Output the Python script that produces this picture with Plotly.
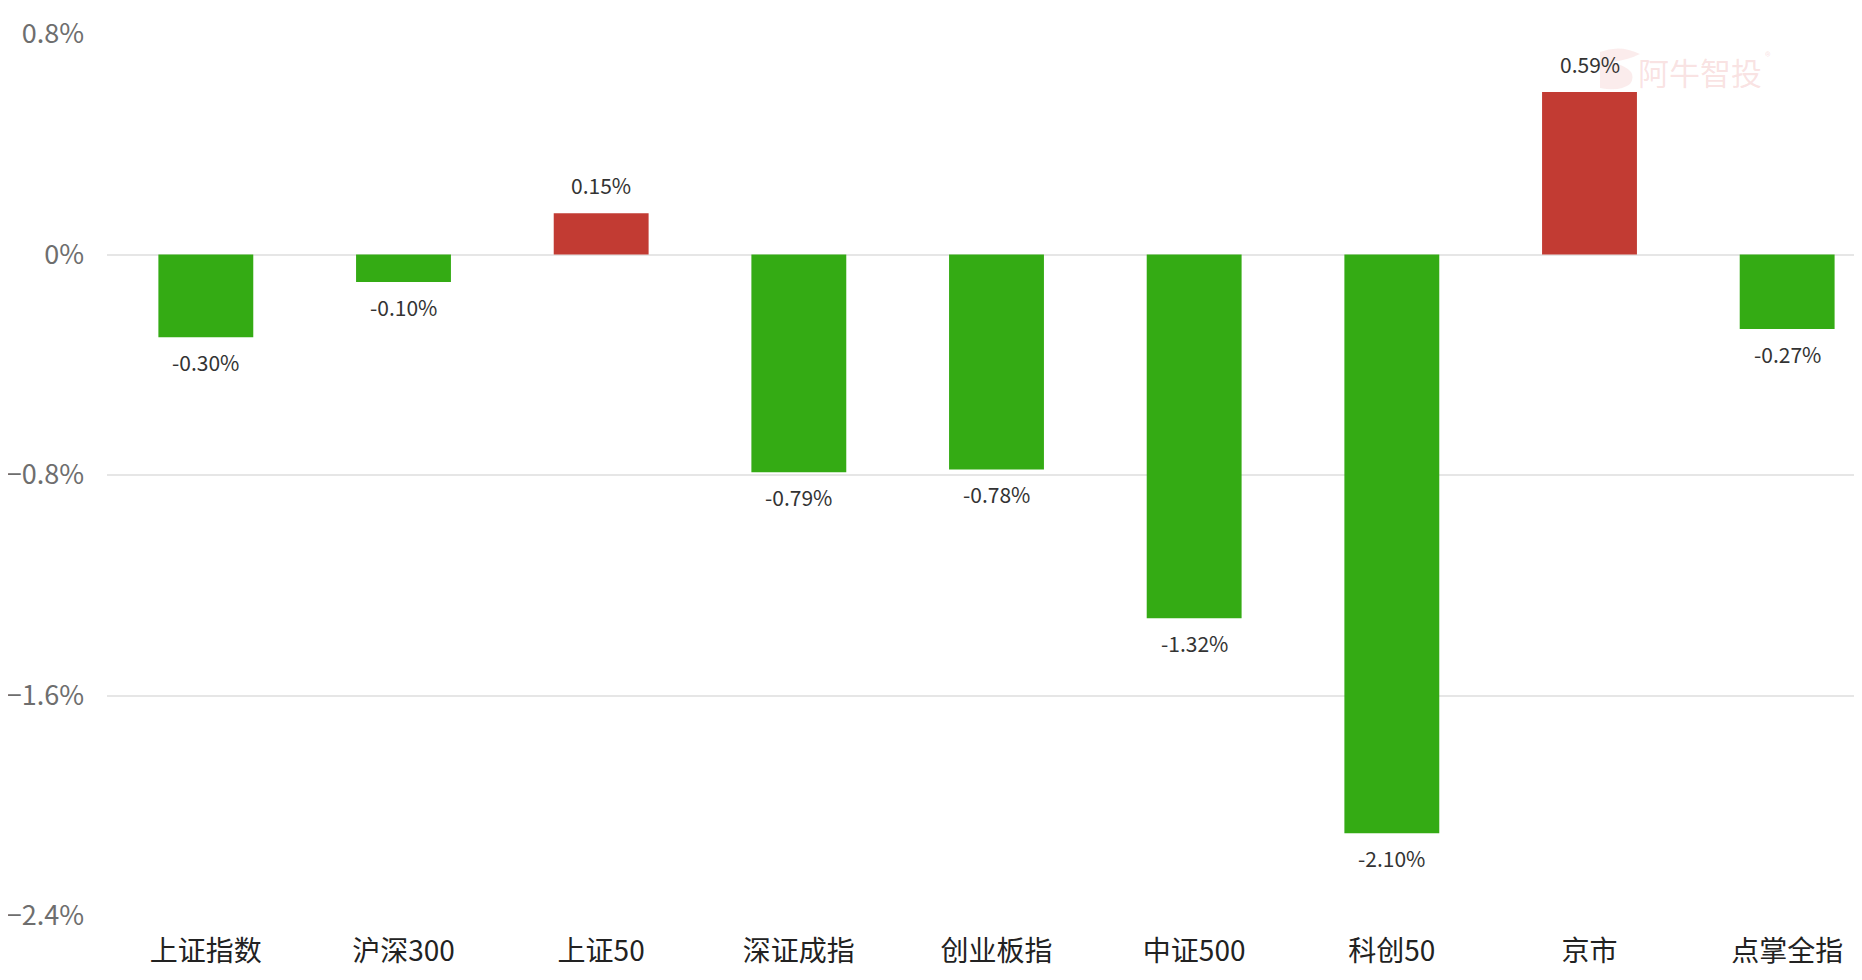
import plotly.graph_objects as go

categories = ["上证指数", "沪深300", "上证50", "深证成指", "创业板指", "中证500", "科创50", "京市", "点掌全指"]
values = [-0.30, -0.10, 0.15, -0.79, -0.78, -1.32, -2.10, 0.59, -0.27]
tick_vals = [0.8, 0, -0.8, -1.6, -2.4]
tick_text = ["0.8%", "0%", "\u22120.8%", "\u22121.6%", "\u22122.4%"]

RED = "#C23B33"
GREEN = "#34AB14"
colors = [RED if v > 0 else GREEN for v in values]
labels = [("-" if v < 0 else "") + f"{abs(v):.2f}%" for v in values]

FONT = "Noto Sans CJK SC, Microsoft YaHei, sans-serif"

# page body has an 8px margin; figure occupies 8..1862 horizontally, 8..980 vertically
W, H = 1854, 972
PL, PR, PT, PB = 107, 1862, 34, 916  # plot area in screen pixels

fig = go.Figure(go.Bar(
    x=list(range(len(categories))),
    y=values,
    marker=dict(color=colors, line=dict(width=0)),
    width=0.48,
    hoverinfo="skip",
))

for i, v in enumerate(values):
    fig.add_annotation(
        x=i, y=v, text=labels[i], showarrow=False,
        yanchor="bottom" if v > 0 else "top",
        yshift=11 if v > 0 else -8,
        font=dict(size=21, color="#333333", family=FONT),
    )


def dx(px):
    return (px - PL) / (PR - PL)


def dy(py):
    return (PB - py) / (PB - PT)


# watermark
fig.add_annotation(
    text="阿牛智投", xref="x domain", yref="y domain",
    x=dx(1700), y=dy(72), xanchor="center", yanchor="middle", showarrow=False,
    font=dict(size=31, color="rgba(225,110,110,0.2)", family=FONT),
)
fig.add_annotation(
    text="®", xref="x domain", yref="y domain",
    x=dx(1768), y=dy(56), xanchor="center", yanchor="middle", showarrow=False,
    font=dict(size=12, color="rgba(225,110,110,0.2)", family=FONT),
)
fig.add_shape(
    type="path", xref="x domain", yref="y domain",
    path=(f"M {dx(1600)} {dy(52)} Q {dx(1620)} {dy(44)} {dx(1640)} {dy(54)} "
          f"Q {dx(1628)} {dy(60)} {dx(1612)} {dy(62)} "
          f"Q {dx(1640)} {dy(70)} {dx(1630)} {dy(84)} "
          f"Q {dx(1620)} {dy(92)} {dx(1600)} {dy(88)} Z"),
    fillcolor="rgba(225,110,110,0.13)", line=dict(width=0), layer="below",
)

fig.update_layout(
    width=W, height=H,
    margin=dict(l=PL - 8, r=0, t=PT - 8, b=8 + H - PB),
    plot_bgcolor="white", paper_bgcolor="white",
    showlegend=False,
    font=dict(family=FONT),
)
fig.update_xaxes(
    tickvals=list(range(len(categories))), ticktext=categories,
    range=[-0.5, 8.5 - 24 / 197.7],
    showgrid=False, zeroline=False, showline=False,
    tickfont=dict(size=28, color="#222222", family=FONT),
    ticks="", ticklabelstandoff=16, automargin=False,
)
fig.update_yaxes(
    range=[-2.4, 0.8], tickvals=tick_vals, ticktext=tick_text,
    showgrid=True, gridcolor="#E6E6E6", gridwidth=1.5,
    zeroline=True, zerolinecolor="#E6E6E6", zerolinewidth=1.5,
    showline=False, ticks="",
    tickfont=dict(size=27, color="#6E6E6E", family=FONT),
    ticklabelstandoff=22, automargin=False,
)

fig.write_html("out.html")
